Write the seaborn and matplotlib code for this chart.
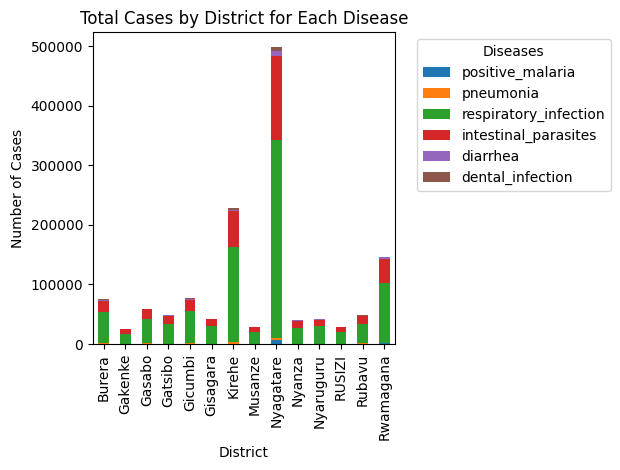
import numpy as np
import pandas as pd
import matplotlib
matplotlib.use("Agg")
import matplotlib.pyplot as plt
import seaborn as sns

# Districts and disease counts
districts = ["Burera", "Gakenke", "Gasabo", "Gatsibo", "Gicumbi", "Gisagara", "Kirehe",
             "Musanze", "Nyagatare", "Nyanza", "Nyaruguru", "RUSIZI", "Rubavu", "Rwamagana"]
diseases = ["positive_malaria", "pneumonia", "respiratory_infection",
            "intestinal_parasites", "diarrhea", "dental_infection"]

positive_malaria = [300, 200, 300, 200, 400, 200, 600, 200, 7200, 300, 200, 200, 300, 1500]
pneumonia = [1500, 500, 800, 600, 1500, 500, 2500, 500, 3500, 600, 500, 500, 700, 800]
respiratory_infection = [52000, 16300, 40900, 33200, 53100, 30300, 159600, 20000, 331300, 26500, 30000, 20000, 33000, 99700]
intestinal_parasites = [18000, 8000, 16000, 13000, 19000, 11000, 60300, 7800, 141000, 11200, 10100, 7300, 13500, 40600]
diarrhea = [2500, 300, 500, 1500, 2000, 300, 2000, 300, 8500, 1700, 1700, 300, 300, 2900]
dental_infection = [1700, 300, 1000, 300, 1000, 300, 3000, 300, 6500, 300, 300, 700, 700, 500]

df = pd.DataFrame({
    "positive_malaria": positive_malaria,
    "pneumonia": pneumonia,
    "respiratory_infection": respiratory_infection,
    "intestinal_parasites": intestinal_parasites,
    "diarrhea": diarrhea,
    "dental_infection": dental_infection,
}, index=districts)

colors = sns.color_palette("tab10", len(diseases))
cum = df[diseases].cumsum(axis=1)

fig, ax = plt.subplots(figsize=(6.2, 4.7), dpi=100)
fig.subplots_adjust(left=0.15, right=0.637, top=0.931, bottom=0.268)

# stacked bars: draw the tallest cumulative layer first, smaller ones on top
for i in range(len(diseases) - 1, -1, -1):
    sns.barplot(x=districts, y=cum[diseases[i]].values, color=colors[i], saturation=1,
                width=0.5, linewidth=0, errorbar=None, label=diseases[i], ax=ax)

ax.set_xlim(-0.5, len(districts) - 0.5)
ax.set_ylim(0, cum[diseases[-1]].max() * 1.05)
ax.tick_params(axis="x", labelrotation=90)
ax.set_title("Total Cases by District for Each Disease")
ax.set_xlabel("District")
ax.set_ylabel("Number of Cases")

handles, labels = ax.get_legend_handles_labels()
order = [labels.index(d) for d in diseases]
ax.legend([handles[k] for k in order], diseases, title="Diseases",
          bbox_to_anchor=(1.05, 1), loc="upper left")
plt.savefig("out.png")
